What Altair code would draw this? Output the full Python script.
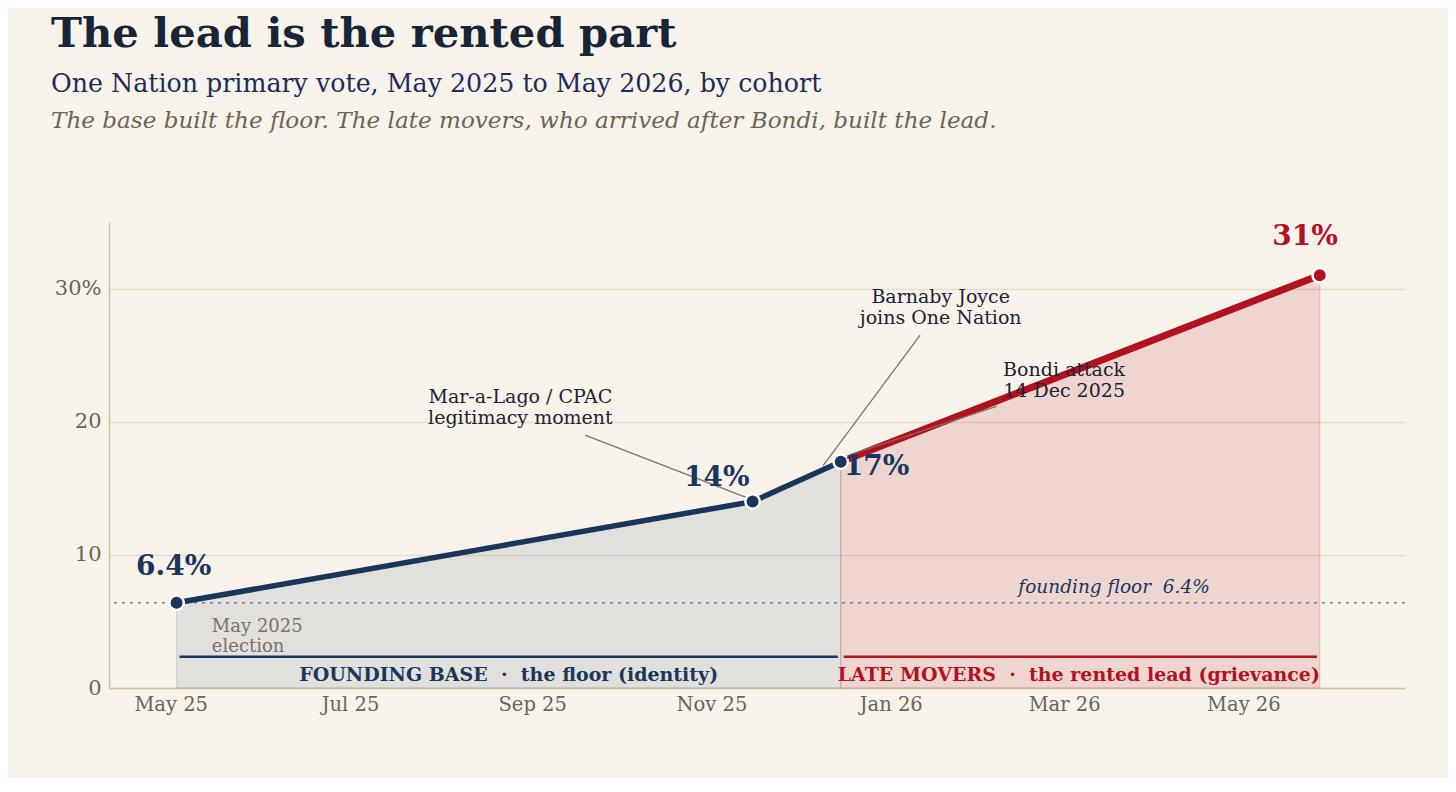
import altair as alt
import pandas as pd

NB = "\u00a0"

# ---------------- data ----------------
base_dates = ["2025-05-03", "2025-11-15", "2025-12-15"]
base_vals = [6.4, 14.0, 17.0]
late_dates = ["2025-12-15", "2026-05-27"]
late_vals = [17.0, 31.0]
floor_val = 6.4

tick_months = [(2025, 5), (2025, 7), (2025, 9), (2025, 11), (2026, 1), (2026, 3), (2026, 5)]
y_ticks = [0, 10, 20, 30]

# value labels
vl_text = ["6.4%", "14%", "17%", "31%"]
vl_dates = ["2025-05-02", "2025-11-14", "2025-12-16", "2026-05-22"]
vl_vals = [9.1, 15.8, 16.6, 33.85]
vl_align = ["center", "right", "left", "center"]
vl_group = ["base", "base", "base", "late"]

# cohort brackets
br_start = ["2025-05-04", "2025-12-16"]
br_end = ["2025-12-14", "2026-05-26"]
br_val = [2.35, 2.35]
br_group = ["base", "late"]
br_label = ["FOUNDING BASE" + NB * 2 + "\u00b7" + NB * 2 + "the floor (identity)",
            "LATE MOVERS" + NB * 2 + "\u00b7" + NB * 2 + "the rented lead (grievance)"]
br_label_dates = ["2025-08-24", "2026-03-06"]
br_label_val = [0.95, 0.95]

# event annotations (y = first line)
ev_text = [["Mar-a-Lago / CPAC", "legitimacy moment"],
           ["Barnaby Joyce", "joins One Nation"],
           ["Bondi attack", "14 Dec 2025"]]
ev_dates = ["2025-08-28", "2026-01-18", "2026-03-01"]
ev_vals = [21.85, 29.4, 23.85]
ld_x1 = ["2025-09-19", "2026-01-11", "2026-02-06"]
ld_y1 = [19.0, 26.5, 21.15]
ld_x2 = ["2025-11-13", "2025-12-09", "2025-12-18"]
ld_y2 = [14.3, 16.7, 17.5]

floor_label = "founding floor" + NB * 2 + "6.4%"
floor_label_date = "2026-03-18"
floor_label_val = 7.6

elec_label = ["May 2025", "election"]
elec_label_date = "2025-05-15"
elec_label_val = 4.55

title_text = "The lead is the rented part"
subtitle_text = "One Nation primary vote, May 2025 to May 2026, by cohort"
deck_text = "The base built the floor. The late movers, who arrived after Bondi, built the lead."

# ---------------- styles ----------------
FONT = "DejaVu Serif"
NAVY = "#1b365d"
RED = "#b3111f"
BG = "#f7f3eb"
GREY = "#6b6456"
INK = "#1c2230"
LEADER = "#7d7565"

base_df = pd.DataFrame({"date": pd.to_datetime(base_dates), "v": base_vals})
late_df = pd.DataFrame({"date": pd.to_datetime(late_dates), "v": late_vals})

x_scale = alt.Scale(domain=[alt.DateTime(year=2025, month=4, date=10),
                            alt.DateTime(year=2026, month=6, date=25)])
y_scale = alt.Scale(domain=[0, 35], nice=False)

x_axis = alt.Axis(values=[alt.DateTime(year=y, month=m, date=1) for y, m in tick_months],
                  format="%b %y", title=None, grid=False, ticks=False,
                  labelPadding=7, labelFontSize=19.5, labelColor=GREY, labelFont=FONT,
                  domainColor="#cdc2a8", domainWidth=1.5)
y_axis = alt.Axis(values=y_ticks, title=None, grid=True, ticks=False,
                  gridColor="#e5ddc7", gridWidth=1.5,
                  labelExpr="datum.value == 30 ? '30%' : datum.label",
                  labelPadding=8, labelFontSize=21, labelColor=GREY, labelFont=FONT,
                  domainColor="#cdc2a8", domainWidth=1.5)

X = alt.X("date:T", scale=x_scale, axis=x_axis)
Y = alt.Y("v:Q", scale=y_scale, axis=y_axis)

grp_color = alt.Color("g:N", scale=alt.Scale(domain=["base", "late"], range=[NAVY, RED]), legend=None)

base_area = alt.Chart(base_df).mark_area(
    fill=NAVY, fillOpacity=0.1, stroke=NAVY, strokeOpacity=0.12, strokeWidth=1.2
).encode(x=X, y=Y)
late_area = alt.Chart(late_df).mark_area(
    fill=RED, fillOpacity=0.13, stroke=RED, strokeOpacity=0.16, strokeWidth=1.2
).encode(x="date:T", y="v:Q")

floor_rule = alt.Chart(pd.DataFrame({"v": [floor_val]})).mark_rule(
    color="#75839a", strokeWidth=1.5, strokeDash=[3, 5]
).encode(y="v:Q")

br_df = pd.DataFrame({"date": pd.to_datetime(br_start), "date2": pd.to_datetime(br_end),
                      "v": br_val, "g": br_group})
brackets = alt.Chart(br_df).mark_rule(strokeWidth=2.5).encode(
    x="date:T", x2="date2:T", y="v:Q", color=grp_color)

brl_df = pd.DataFrame({"date": pd.to_datetime(br_label_dates), "v": br_label_val,
                       "t": br_label, "g": br_group})
br_labels = alt.Chart(brl_df).mark_text(
    font=FONT, fontSize=19, fontWeight="bold", baseline="middle", align="center"
).encode(x="date:T", y="v:Q", text="t:N", color=grp_color)

ld_df = pd.DataFrame({"date": pd.to_datetime(ld_x1), "v": ld_y1,
                      "date2": pd.to_datetime(ld_x2), "v2": ld_y2})
leaders = alt.Chart(ld_df).mark_rule(color=LEADER, strokeWidth=1.3).encode(
    x="date:T", y="v:Q", x2="date2:T", y2="v2:Q")

base_line = alt.Chart(base_df).mark_line(color=NAVY, strokeWidth=5.5, strokeCap="round",
                                         strokeJoin="round").encode(x="date:T", y="v:Q")
late_line = alt.Chart(late_df).mark_line(color=RED, strokeWidth=7, strokeCap="round").encode(
    x="date:T", y="v:Q")

base_pts = alt.Chart(base_df).mark_circle(size=210, color=NAVY, opacity=1,
                                          stroke="white", strokeWidth=2.5).encode(x="date:T", y="v:Q")
late_pts = alt.Chart(late_df.tail(1)).mark_circle(size=210, color=RED, opacity=1,
                                                  stroke="white", strokeWidth=2.5).encode(x="date:T", y="v:Q")

vl_df = pd.DataFrame({"date": pd.to_datetime(vl_dates), "v": vl_vals, "t": vl_text,
                      "a": vl_align, "g": vl_group})
val_layers = []
for al in ["center", "right", "left"]:
    val_layers.append(
        alt.Chart(vl_df[vl_df["a"] == al]).mark_text(
            font=FONT, fontSize=28, fontWeight="bold", baseline="middle", align=al
        ).encode(x="date:T", y="v:Q", text="t:N", color=grp_color)
    )

ev_df = pd.DataFrame({"date": pd.to_datetime(ev_dates), "v": ev_vals, "t": ev_text})
ev_labels = alt.Chart(ev_df).mark_text(
    font=FONT, fontSize=19, color=INK, baseline="middle", align="center", lineHeight=21
).encode(x="date:T", y="v:Q", text="t")

floor_txt = alt.Chart(pd.DataFrame({"date": pd.to_datetime([floor_label_date]),
                                    "v": [floor_label_val], "t": [floor_label]})).mark_text(
    font=FONT, fontSize=18.5, fontStyle="italic", color=NAVY, baseline="middle", align="center"
).encode(x="date:T", y="v:Q", text="t:N")

elec_txt = alt.Chart(pd.DataFrame({"date": pd.to_datetime([elec_label_date]),
                                   "v": [elec_label_val], "t": [elec_label]})).mark_text(
    font=FONT, fontSize=18, color="#7a7262", baseline="middle", align="left", lineHeight=20
).encode(x="date:T", y="v:Q", text="t")

hdr_df = pd.DataFrame({"t": [title_text, subtitle_text, deck_text],
                       "k": ["title", "sub", "deck"]})
title_mark = alt.Chart(hdr_df[hdr_df.k == "title"]).mark_text(
    font=FONT, fontSize=41.7, fontWeight="bold", color="#172536", align="left", baseline="alphabetic"
).encode(x=alt.value(-58), y=alt.value(-175), text="t:N")
sub_mark = alt.Chart(hdr_df[hdr_df.k == "sub"]).mark_text(
    font=FONT, fontSize=25.3, color="#1a2d5a", align="left", baseline="alphabetic"
).encode(x=alt.value(-58), y=alt.value(-130.5), text="t:N")
deck_mark = alt.Chart(hdr_df[hdr_df.k == "deck"]).mark_text(
    font=FONT, fontSize=23.1, fontStyle="italic", color=GREY, align="left", baseline="alphabetic"
).encode(x=alt.value(-58), y=alt.value(-94), text="t:N")

chart = alt.layer(
    base_area, late_area, floor_rule, brackets, base_line, late_line, leaders,
    base_pts, late_pts, *val_layers, ev_labels, floor_txt, elec_txt, br_labels,
    title_mark, sub_mark, deck_mark
).properties(
    width=1296, height=466,
    autosize=alt.AutoSizeParams(type="none"),
    padding={"left": 101, "top": 214, "right": 43, "bottom": 90},
    background=BG,
).configure_view(stroke=None)

chart.save("out.html", embed_options={"renderer": "svg", "actions": False})
